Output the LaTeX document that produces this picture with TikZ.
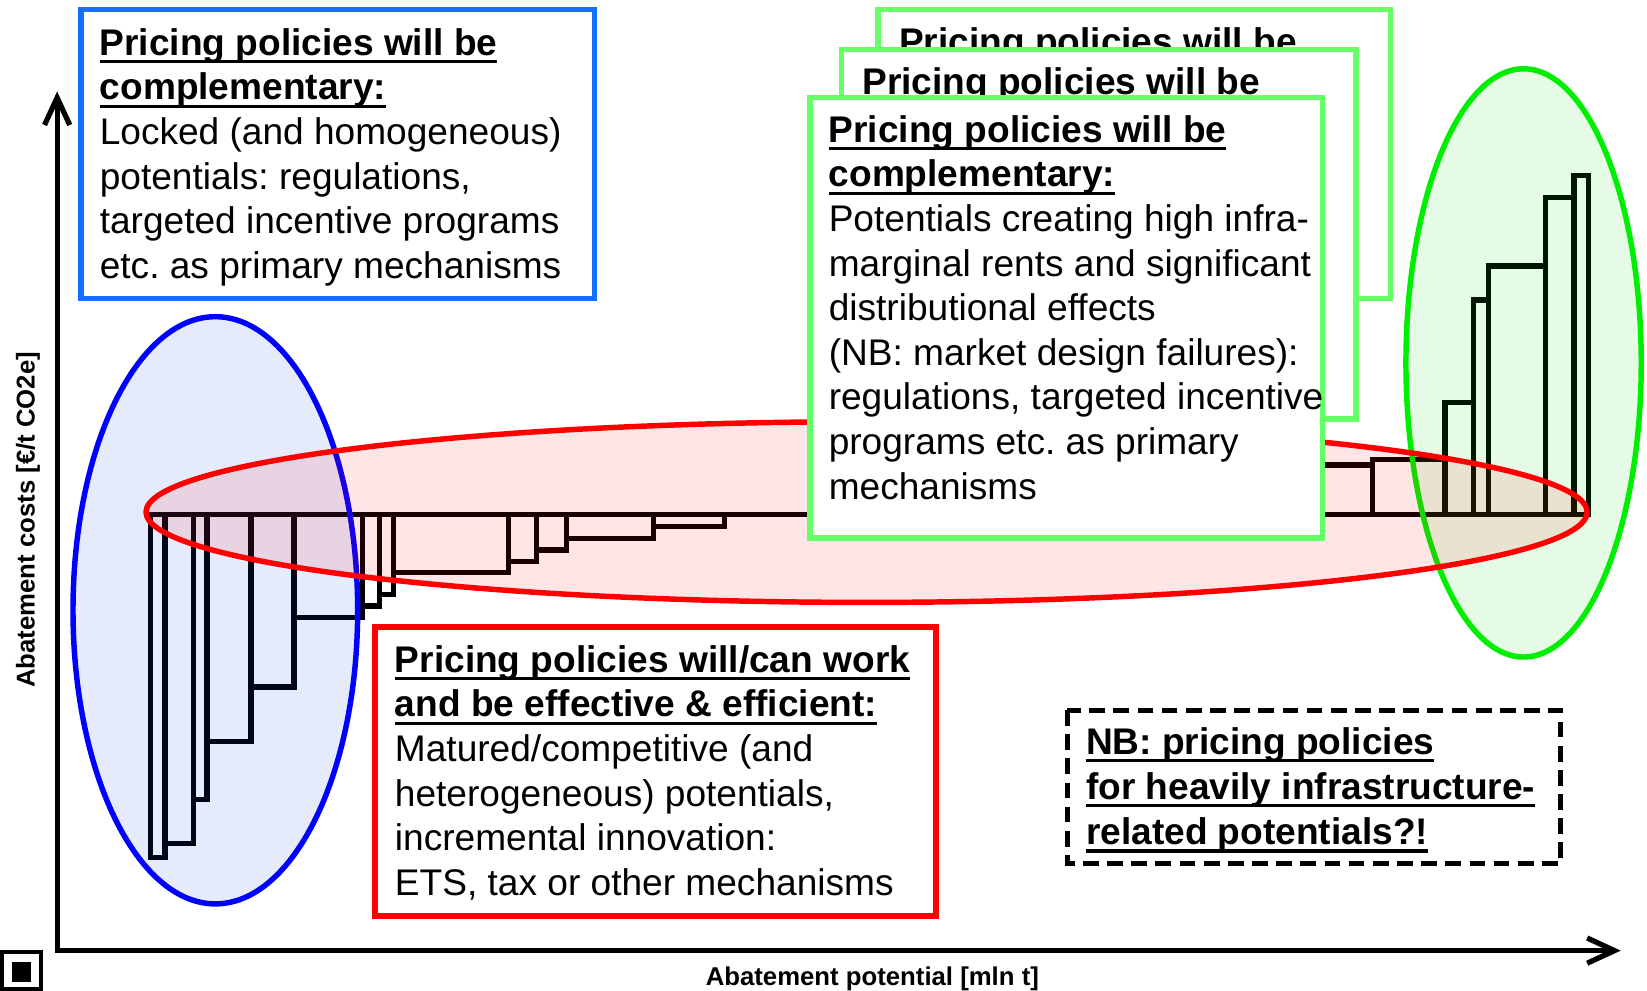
\documentclass[tikz,border=0pt]{standalone}
\usepackage{fontspec}
\setmainfont{Liberation Sans}
\usetikzlibrary{arrows.meta}
\frenchspacing
\definecolor{bluebox}{RGB}{20,110,255}
\definecolor{blueell}{RGB}{0,0,255}
\definecolor{bluefill}{RGB}{0,60,220}
\definecolor{redline}{RGB}{255,0,0}
\definecolor{greenbox}{RGB}{102,255,102}
\definecolor{greenell}{RGB}{0,238,0}
\definecolor{greenfill}{RGB}{0,220,0}
\newsavebox{\hdbox}
\newcommand{\hd}[1]{{\bfseries\sbox{\hdbox}{#1}\rlap{\rule[-7.6pt]{\wd\hdbox}{3pt}}\usebox{\hdbox}}}
\newcommand{\fst}{\rule{0pt}{30pt}}
\tikzset{
  txt/.style={anchor=north west, inner sep=0pt, outer sep=0pt, align=left,
    font=\frenchspacing\fontsize{35.3}{42.5}\selectfont},
  axlbl/.style={inner sep=0pt, font=\bfseries\fontsize{24.5}{29}\selectfont},
  axisline/.style={line width=5pt},
  barline/.style={line width=5pt, black},
  ellbase/.style={line width=5.2pt, fill opacity=0.1},
  boxline/.style={line width=5.2pt, fill=white},
}
\begin{document}
\begin{tikzpicture}[x=1pt,y=-1pt]
\useasboundingbox (0,0) rectangle (1568,943);
% axes
\coordinate (ytip) at (54.4,87);
\coordinate (orig) at (54.4,905);
\coordinate (xtip) at (1543,905);
\draw[axisline, {Straight Barb[length=26pt,width=24pt]}-{Straight Barb[length=26pt,width=24pt]}] (ytip) -- (orig) -- (xtip);
\node[axlbl, rotate=90, anchor=base] (ylab) at (33,495) {Abatement costs [€/t CO2e]};
\node[axlbl, anchor=base] (xlab) at (830.5,938) {Abatement potential [mln t]};
% cost curve bars
\foreach \a/\b/\c in {143/157/816, 157/184/803, 184/197/761, 197/239/706, 239/280/654,
  280/345/588, 345/361/577, 361/374.5/566, 374.5/484/545, 484/511/534.5,
  511/539.5/523.5, 539.5/622/513, 622/690/501,
  1200/1307/442.7, 1307/1375.7/437.3, 1375.7/1402.6/383, 1402.6/1417/285.6,
  1417/1471.5/253.2, 1471.5/1498.5/188.2, 1498.5/1512/167.2}
  \draw[barline] (\a,490) rectangle (\b,\c);
\draw[barline] (143,490) -- (1512,490);
% ellipses
\draw[ellbase, draw=blueell, fill=bluefill] (205,581) ellipse [x radius=135.5, y radius=279.5];
\draw[ellbase, draw=greenell, fill=greenfill] (1450.5,345.5) ellipse [x radius=112, y radius=280];
\draw[ellbase, draw=redline, fill=redline] (825,487.5) ellipse [x radius=686, y radius=86];
% green stacked boxes
\draw[boxline, draw=greenbox] (836,9) rectangle (1324,284);
\node[txt] (gback) at (856,21.6) {\fst\textbf{Pricing policies will be}};
\draw[boxline, draw=greenbox] (801,47) rectangle (1291,399);
\node[txt] (gmid) at (821,59.8) {\fst\textbf{Pricing policies will be}};
\draw[boxline, draw=greenbox] (771,93) rectangle (1259,512);
\node[txt] (gfront) at (789,105.3) {\fst\hd{Pricing policies will be}\\
  \hd{complementary:}\\
  Potentials creating high infra-\\
  marginal rents and significant\\
  distributional effects\\
  (NB: market design failures):\\
  regulations, targeted incentive\\
  programs etc. as primary\\
  mechanisms};
% blue box
\draw[boxline, draw=bluebox] (77,9) rectangle (566,284);
\node[txt] (bluetxt) at (95,22.6) {\fst\hd{Pricing policies will be}\\
  \hd{complementary:}\\
  Locked (and homogeneous)\\
  potentials: regulations,\\
  targeted incentive programs\\
  etc. as primary mechanisms};
% red box
\draw[boxline, draw=redline] (357,597) rectangle (891,872);
\node[txt] (redtxt) at (376,610) {\fst\hd{Pricing policies will/can work}\\
  \hd{and be effective \& efficient:}\\
  Matured/competitive (and\\
  heterogeneous) potentials,\\
  incremental innovation:\\
  ETS, tax or other mechanisms};
% NB dashed box
\draw[line width=4.8pt, dash pattern=on 15pt off 8pt, fill=white] (1016,676) rectangle (1486,822);
\node[txt, font=\frenchspacing\fontsize{35.3}{43}\selectfont] (nbtxt) at (1034,688) {\fst\hd{NB: pricing policies}\\
  \hd{for heavily infrastructure-}\\
  \hd{related potentials?!}};
% corner icon
\draw[line width=3.8pt] (1.9,906.3) rectangle (38.7,941.5);
\fill[black] (11.1,915.5) rectangle (29.2,934.6);
\end{tikzpicture}
\end{document}
